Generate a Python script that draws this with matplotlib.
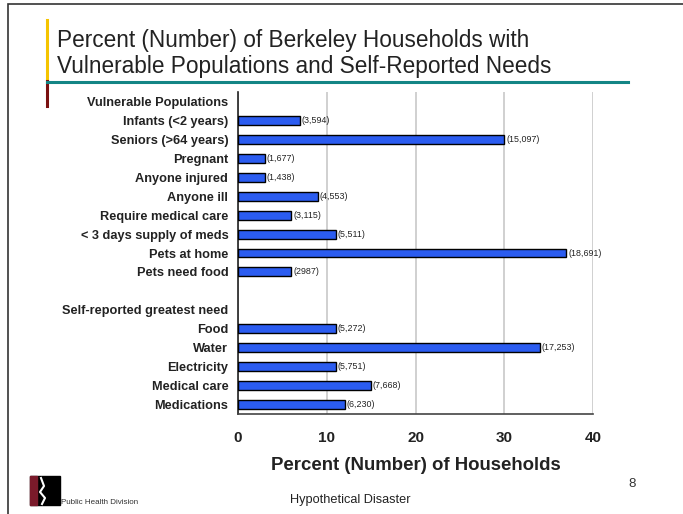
import numpy as np
import matplotlib
matplotlib.use("Agg")
import matplotlib.pyplot as plt
from matplotlib.patches import Rectangle
from matplotlib.lines import Line2D

plt.rcParams["font.family"] = ["Liberation Sans", "DejaVu Sans"]

# Two groups of rows, each with a header line and its items
group_titles = ["Vulnerable Populations", "Self-reported greatest need"]
vulnerable = ["Infants (<2 years)", "Seniors (>64 years)", "Pregnant", "Anyone injured",
              "Anyone ill", "Require medical care", "< 3 days supply of meds",
              "Pets at home", "Pets need food"]
vulnerable_pct = [7, 30, 3, 3, 9, 6, 11, 37, 6]
vulnerable_n = ["(3,594)", "(15,097)", "(1,677)", "(1,438)", "(4,553)",
                "(3,115)", "(5,511)", "(18,691)", "(2987)"]
needs = ["Food", "Water", "Electricity", "Medical care", "Medications"]
needs_pct = [11, 34, 11, 15, 12]
needs_n = ["(5,272)", "(17,253)", "(5,751)", "(7,668)", "(6,230)"]
x_ticks = [0, 10, 20, 30, 40]

# row layout: header, items, blank, header, items
labels = [group_titles[0]] + vulnerable + [""] + [group_titles[1]] + needs
values = [None] + vulnerable_pct + [None, None] + needs_pct
counts = [None] + vulnerable_n + [None, None] + needs_n
ys = np.arange(len(labels))

W, H = 683, 514
fig = plt.figure(figsize=(W / 100, H / 100), dpi=100)

def fx(px):
    return px / W

def fy(py):
    return 1 - py / H

# slide frame and title decorations
fig.add_artist(Rectangle((fx(8), fy(700)), 1.2, fy(4) - fy(700), transform=fig.transFigure,
                         fill=False, edgecolor="#333333", linewidth=1.2))
fig.add_artist(Line2D([fx(47), fx(47)], [fy(20), fy(81)], transform=fig.transFigure,
                      color="#f5c400", linewidth=2.2))
fig.add_artist(Line2D([fx(47), fx(47)], [fy(81), fy(106)], transform=fig.transFigure,
                      color="#7a1010", linewidth=2.2))
fig.add_artist(Line2D([fx(47), fx(628)], [fy(82), fy(82)], transform=fig.transFigure,
                      color="#138585", linewidth=2.2))
fig.text(fx(57), fy(40), "Percent (Number) of Berkeley Households with",
         fontsize=16.3, color="#222222", va="center", ha="left")
fig.text(fx(57), fy(67), "Vulnerable Populations and Self-Reported Needs",
         fontsize=16.3, color="#222222", va="center", ha="left")

ax = fig.add_axes([fx(238), fy(414), fx(593) - fx(238), fy(92) - fy(414)])
for y, v, c in zip(ys, values, counts):
    if v is None:
        continue
    ax.barh(y, v, height=0.47, color="#2b5cf0", edgecolor="black", linewidth=1.0, zorder=3)
    ax.text(v + 0.2, y, c, fontsize=6.4, va="center", ha="left", color="#222222")

ax.set_ylim(len(labels) - 0.5, -0.5)
ax.set_xlim(0, 40)
ax.set_xticks(x_ticks)
ax.set_xticklabels([str(t) for t in x_ticks], fontsize=11, fontweight="bold", color="#222222")
ax.set_yticks(ys)
ax.set_yticklabels(labels, fontsize=9.2, fontweight="bold", color="#222222")
ax.tick_params(axis="both", length=0)
ax.tick_params(axis="x", pad=12)
ax.tick_params(axis="y", pad=7)
ax.grid(axis="x", color="#c8c8c8", linewidth=1.2, zorder=0)
for s in ["top", "right"]:
    ax.spines[s].set_visible(False)
ax.spines["left"].set_color("#222222")
ax.spines["bottom"].set_color("#444444")
ax.spines["left"].set_linewidth(1.2)
ax.spines["bottom"].set_linewidth(1.2)
ax.set_xlabel("Percent (Number) of Households", fontsize=13.4, fontweight="bold",
              color="#222222", labelpad=9)

# footer
fig.add_artist(Rectangle((fx(30), fy(505)), fx(30), fy(476) - fy(505),
                         transform=fig.transFigure, color="black"))
fig.add_artist(Rectangle((fx(30), fy(505)), fx(7), fy(476) - fy(505),
                         transform=fig.transFigure, color="#7a1a2a"))
fig.add_artist(Line2D([fx(41), fx(44), fx(40), fx(45), fx(42)],
                      [fy(478), fy(486), fy(492), fy(498), fy(504)],
                      transform=fig.transFigure, color="white", linewidth=1.5))
fig.text(fx(61), fy(503), "Public Health Division", fontsize=5.8, color="#333333",
         va="center", ha="left")
fig.text(fx(350), fy(500), "Hypothetical Disaster", fontsize=9.2, color="#222222",
         va="center", ha="center")
fig.text(fx(632), fy(484), "8", fontsize=9.5, color="#333333", va="center", ha="center")

fig.savefig("out.png", dpi=100)
